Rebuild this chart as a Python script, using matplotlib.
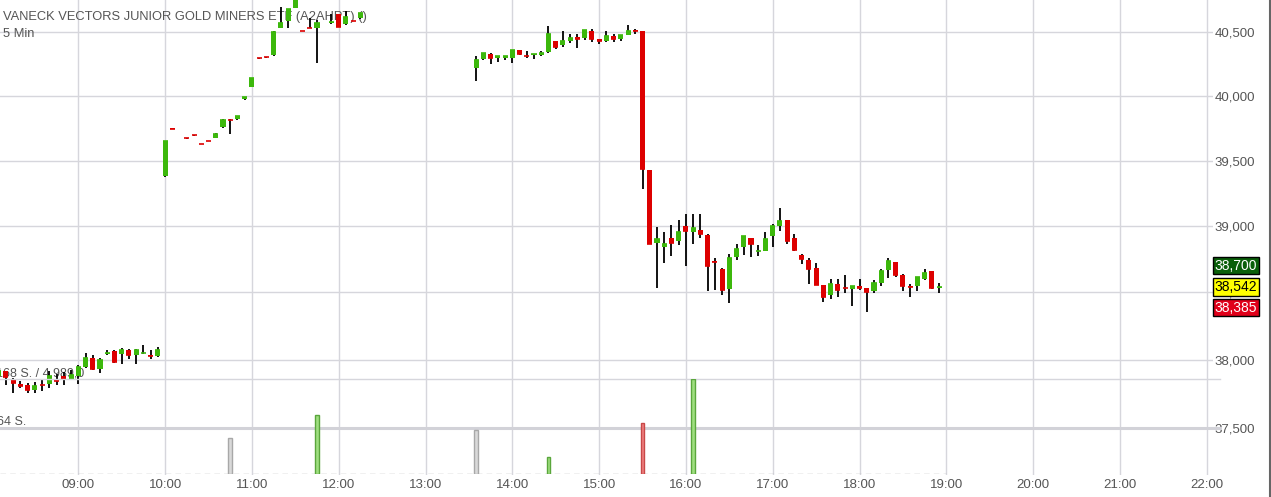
import matplotlib
matplotlib.use("Agg")
import matplotlib.pyplot as plt
from matplotlib.ticker import FixedLocator, NullLocator, FuncFormatter
from matplotlib.lines import Line2D

plt.rcParams['font.family'] = ['Liberation Sans', 'DejaVu Sans']

# ---------------------------------------------------------------
# Kursdaten (5 Min Kerzen)
# ---------------------------------------------------------------
times = ['08:05', '08:10', '08:15', '08:20', '08:25', '08:30', '08:35', '08:40',
         '08:45', '08:50', '08:55', '09:00', '09:05', '09:10', '09:15', '09:20',
         '09:25', '09:30', '09:35', '09:40', '09:45', '09:50', '09:55',
         '10:00', '10:05', '10:15', '10:20', '10:25', '10:30', '10:35', '10:40',
         '10:45', '10:50', '10:55', '11:00', '11:05', '11:10', '11:15', '11:20',
         '11:25', '11:30', '11:35', '11:40', '11:45', '11:55', '12:00', '12:05',
         '12:10', '12:15',
         '13:35', '13:40', '13:45', '13:50', '13:55', '14:00', '14:05', '14:10',
         '14:15', '14:20', '14:25', '14:30', '14:35', '14:40', '14:45', '14:50',
         '14:55', '15:00', '15:05', '15:10', '15:15', '15:20', '15:25', '15:30',
         '15:35', '15:40', '15:45', '15:50', '15:55', '16:00', '16:05', '16:10',
         '16:15', '16:20', '16:25', '16:30', '16:35', '16:40', '16:45', '16:50',
         '16:55', '17:00', '17:05', '17:10', '17:15', '17:20', '17:25', '17:30',
         '17:35', '17:40', '17:45', '17:50', '17:55', '18:00', '18:05', '18:10',
         '18:15', '18:20', '18:25', '18:30', '18:35', '18:40', '18:45', '18:50',
         '18:55']

opens = [37.876, 37.914, 37.852, 37.820, 37.815, 37.773, 37.815, 37.817,
         37.850, 37.877, 37.859, 37.877, 37.948, 38.012, 37.931, 38.039,
         38.067, 38.039, 38.069, 38.032, 38.047, 38.037, 38.025,
         39.385, 39.752, 39.675, 39.698, 39.629, 39.652, 39.675, 39.762,
         39.816, 39.822, 39.980, 40.073, 40.297, 40.305, 40.321, 40.532,
         40.592, 40.690, 40.510, 40.534, 40.536, 40.571, 40.645, 40.565,
         40.589, 40.610,
         40.221, 40.290, 40.332, 40.300, 40.300, 40.300, 40.361, 40.315,
         40.324, 40.319, 40.345, 40.431, 40.400, 40.431, 40.466, 40.458,
         40.510, 40.447, 40.431, 40.474, 40.447, 40.479, 40.518, 40.510,
         39.430, 38.876, 38.839, 38.911, 38.891, 39.000, 38.958, 38.970,
         38.933, 38.735, 38.678, 38.527, 38.765, 38.842, 38.911, 38.809,
         38.814, 38.928, 39.002, 39.045, 38.911, 38.785, 38.743, 38.681,
         38.555, 38.483, 38.562, 38.534, 38.527, 38.547, 38.532, 38.512,
         38.572, 38.666, 38.728, 38.631, 38.547, 38.550, 38.599, 38.658,
         38.532]

highs = [37.926, 37.916, 37.864, 37.840, 37.827, 37.832, 37.852, 37.914,
         37.894, 37.909, 37.926, 37.963, 38.049, 38.037, 38.012, 38.069,
         38.074, 38.086, 38.079, 38.079, 38.106, 38.074, 38.091,
         39.655, 39.753, 39.676, 39.699, 39.630, 39.653, 39.710, 39.819,
         39.819, 39.848, 39.995, 40.142, 40.298, 40.306, 40.513, 40.702,
         40.686, 40.800, 40.511, 40.610, 40.597, 40.645, 40.648, 40.664,
         40.590, 40.652,
         40.313, 40.339, 40.334, 40.315, 40.315, 40.363, 40.363, 40.353,
         40.331, 40.355, 40.550, 40.433, 40.510, 40.484, 40.484, 40.520,
         40.526, 40.449, 40.510, 40.487, 40.479, 40.558, 40.526, 40.512,
         39.432, 38.990, 38.953, 39.007, 39.045, 39.089, 39.094, 39.094,
         38.941, 38.760, 38.680, 38.792, 38.864, 38.928, 38.913, 38.859,
         38.955, 39.020, 39.139, 39.047, 38.938, 38.792, 38.760, 38.718,
         38.557, 38.604, 38.599, 38.629, 38.549, 38.599, 38.534, 38.594,
         38.673, 38.760, 38.730, 38.636, 38.567, 38.616, 38.673, 38.660,
         38.569]

lows = [37.874, 37.810, 37.753, 37.790, 37.753, 37.753, 37.766, 37.790,
        37.815, 37.815, 37.852, 37.820, 37.938, 37.921, 37.899, 38.032,
        37.975, 37.968, 38.007, 37.968, 38.042, 38.005, 38.017,
        39.378, 39.747, 39.671, 39.694, 39.625, 39.648, 39.672, 39.752,
        39.703, 39.818, 39.968, 40.070, 40.293, 40.301, 40.313, 40.532,
        40.532, 40.688, 40.506, 40.530, 40.256, 40.565, 40.540, 40.560,
        40.585, 40.608,
        40.119, 40.279, 40.248, 40.269, 40.284, 40.261, 40.319, 40.300,
        40.287, 40.316, 40.334, 40.366, 40.387, 40.413, 40.374, 40.437,
        40.426, 40.410, 40.426, 40.426, 40.434, 40.477, 40.487, 39.281,
        38.862, 38.537, 38.723, 38.777, 38.859, 38.698, 38.864, 38.908,
        38.512, 38.520, 38.483, 38.418, 38.743, 38.785, 38.767, 38.772,
        38.812, 38.842, 38.960, 38.864, 38.814, 38.715, 38.567, 38.555,
        38.431, 38.451, 38.463, 38.495, 38.401, 38.517, 38.357, 38.493,
        38.550, 38.611, 38.619, 38.512, 38.463, 38.512, 38.597, 38.525,
        38.493]

closes = [37.919, 37.869, 37.825, 37.808, 37.773, 37.808, 37.812, 37.877,
          37.842, 37.854, 37.889, 37.946, 38.012, 37.933, 37.998, 38.052,
          37.980, 38.074, 38.037, 38.069, 38.052, 38.025, 38.074,
          39.652, 39.748, 39.672, 39.695, 39.626, 39.649, 39.706, 39.814,
          39.813, 39.845, 39.993, 40.139, 40.294, 40.302, 40.500, 40.571,
          40.684, 40.790, 40.507, 40.531, 40.571, 40.579, 40.544, 40.618,
          40.586, 40.650,
          40.282, 40.337, 40.300, 40.313, 40.313, 40.361, 40.332, 40.312,
          40.329, 40.340, 40.487, 40.387, 40.431, 40.453, 40.450, 40.518,
          40.447, 40.431, 40.471, 40.447, 40.479, 40.510, 40.510, 39.436,
          38.865, 38.903, 38.866, 38.876, 38.955, 38.965, 38.985, 38.943,
          38.698, 38.731, 38.520, 38.762, 38.827, 38.926, 38.861, 38.814,
          38.903, 39.000, 39.037, 38.884, 38.822, 38.748, 38.676, 38.557,
          38.468, 38.562, 38.520, 38.530, 38.547, 38.532, 38.505, 38.574,
          38.661, 38.735, 38.631, 38.550, 38.542, 38.614, 38.644, 38.535,
          38.542]

# Umsatz
vol_times = ['10:45', '11:45', '13:35', '14:25', '15:30', '16:05']
vol_values = [61, 98, 73, 28, 86, 158]
vol_kind = ['flat', 'up', 'flat', 'up', 'down', 'up']

price_ticks = [37.5, 38.0, 38.5, 39.0, 39.5, 40.0, 40.5]
hour_ticks = list(range(9, 23))

badge_prices = [38.700, 38.542, 38.385]
badge_style = [('#0a5f0a', 'white'), ('#ffff00', 'black'), ('#e0001a', 'white')]

title = 'VANECK VECTORS JUNIOR GOLD MINERS ETF (A2AHPT) ()'


def to_h(s):
    h, m = s.split(':')
    return int(h) + int(m) / 60


W, H = 1271, 497
fig = plt.figure(figsize=(W / 100, H / 100), dpi=100)
ax = fig.add_axes([0, 22 / H, 1213 / W, 475 / H])
ax.set_yscale('log')
x0, x1 = 8.098, 22.072
ax.set_xlim(x0, x1)
ax.set_ylim(37.156, 40.755)

for s in ax.spines.values():
    s.set_visible(False)
ax.yaxis.tick_right()
ax.yaxis.set_major_locator(FixedLocator(price_ticks))
ax.yaxis.set_minor_locator(NullLocator())
ax.yaxis.set_major_formatter(FuncFormatter(lambda v, p: f'{v:.3f}'.replace('.', ',')))
ax.set_xticks(hour_ticks)
ax.set_xticklabels([f'{h:02d}:00' for h in hour_ticks])
ax.tick_params(axis='both', length=0, labelsize=9.5, colors='#555555')
ax.tick_params(axis='y', pad=1)
ax.tick_params(axis='x', pad=3)
ax.grid(True, color='#d6d6dc', lw=1, zorder=0)
ax.set_axisbelow(True)

# dicke Linie Umsatzbereich
ax.axhline(37.5, color='#d2d2d8', lw=2.2, xmax=1220 / 1213, clip_on=False, zorder=1)

# Titel
ax.text(3 / 1213, (475 - 17) / 475, title, transform=ax.transAxes, ha='left', va='center',
        fontsize=9.3, color='#555555', zorder=2)
ax.text(3 / 1213, (475 - 34) / 475, '5 Min', transform=ax.transAxes, ha='left', va='center',
        fontsize=9.3, color='#555555', zorder=2)
ax.text(-4 / 1213, (475 - 373.5) / 475, '168 S. / 4.989,0', transform=ax.transAxes,
        ha='left', va='center', fontsize=9, color='#555555', zorder=2)
ax.text(-3 / 1213, (475 - 422) / 475, '64 S.', transform=ax.transAxes,
        ha='left', va='center', fontsize=9, color='#555555', zorder=2)

# Kerzen
green = '#3cb80c'
red = '#dd0000'
bw = 0.7 * 5 / 60
for t, o, h, l, c in zip(times, opens, highs, lows, closes):
    x = to_h(t)
    col = green if c >= o else red
    ax.vlines(x, l, h, color='black', lw=1.3, zorder=4)
    ax.bar(x, abs(c - o), bottom=min(o, c), width=bw, color=col, lw=0, zorder=5)
    ax.hlines(c, x - bw / 2, x + bw / 2, color=col, lw=1.2, zorder=5)

# Kursmarken rechts
for p, (fc, tc) in zip(badge_prices, badge_style):
    ax.text(1236 / 1213, p, f'{p:.3f}'.replace('.', ','), transform=ax.get_yaxis_transform(),
            ha='center', va='center', fontsize=10, color=tc, zorder=10, clip_on=False,
            bbox=dict(boxstyle='square,pad=0.12', fc=fc, ec='black', lw=1))

# Umsatz
vax = fig.add_axes([0, (H - 474.3) / H, 1213 / W, 95 / H])
vax.set_xlim(x0, x1)
vax.set_ylim(0, 158)
vax.axis('off')
vax.patch.set_alpha(0)
vcol = {'flat': ('#d9d9d9', '#a8a8a8'), 'up': ('#9fdf80', '#5aa63c'), 'down': ('#ef8080', '#c84848')}
for t, v, k in zip(vol_times, vol_values, vol_kind):
    fc, ec = vcol[k]
    vax.bar(to_h(t), v, width=0.042, color=fc, edgecolor=ec, lw=1, zorder=3)
vax.plot([x0, 19.0], [0, 0], ls=(0, (4, 3)), color='#b4b4b4', lw=1, zorder=2)
vax.axhline(158, color='#d6d6dc', lw=1, xmax=1220 / 1213, clip_on=False, zorder=1)

fig.add_artist(Line2D([1270 / W, 1270 / W], [0, 1], color='#666666', lw=1.5))

fig.savefig('out.png', dpi=100)
